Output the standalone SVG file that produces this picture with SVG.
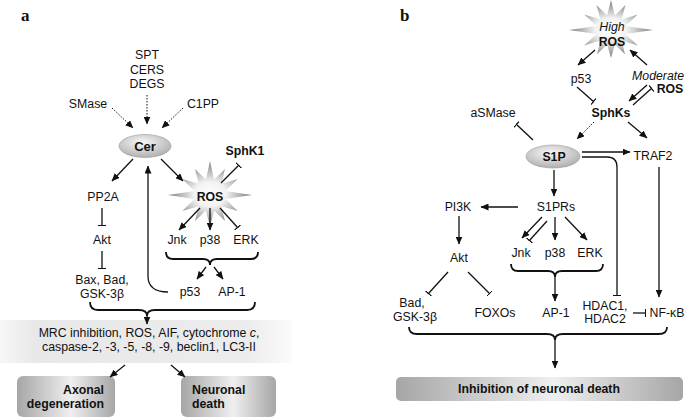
<svg xmlns="http://www.w3.org/2000/svg" width="685" height="418" viewBox="0 0 685 418">
<defs>
<style>
text{font-family:"Liberation Sans",Arial,sans-serif;font-size:12.3px;fill:#111;text-anchor:middle}
.b{font-weight:bold}
.i{font-style:italic}
.lbl{font-family:"Liberation Serif","Times New Roman",serif;font-size:17px;font-weight:bold;text-anchor:start}
.c{fill:none;stroke:#111;stroke-width:1.3}
.d{fill:none;stroke:#111;stroke-width:1;stroke-dasharray:1.5 1.5}
.br{fill:none;stroke:#111;stroke-width:1.8}
.ar{marker-end:url(#ah)}
.tb{marker-end:url(#tb)}
</style>
<marker id="ah" viewBox="0 0 8 7" refX="7.5" refY="3.5" markerWidth="8" markerHeight="7" markerUnits="userSpaceOnUse" orient="auto"><path d="M0,0 L8,3.5 L0,7 z" fill="#111"/></marker>
<marker id="tb" viewBox="0 0 1.4 8" refX="1.4" refY="4" markerWidth="1.4" markerHeight="8" markerUnits="userSpaceOnUse" orient="auto"><rect x="0" y="0" width="1.4" height="8" fill="#111"/></marker>
<radialGradient id="star" cx="50%" cy="50%" r="50%"><stop offset="0" stop-color="#ffffff"/><stop offset="0.38" stop-color="#f2f2f2"/><stop offset="1" stop-color="#7c7c7c"/></radialGradient>
<radialGradient id="ell" cx="45%" cy="35%" r="65%"><stop offset="0" stop-color="#f8f8f8"/><stop offset="1" stop-color="#b0b0b0"/></radialGradient>
<linearGradient id="box" x1="0" y1="0" x2="1" y2="0"><stop offset="0" stop-color="#a6a6a6"/><stop offset="0.55" stop-color="#efefef"/><stop offset="1" stop-color="#a6a6a6"/></linearGradient>
<linearGradient id="band" x1="0" y1="0" x2="1" y2="0"><stop offset="0" stop-color="#f7f7f7"/><stop offset="0.12" stop-color="#e8e8e8"/><stop offset="0.85" stop-color="#ececec"/><stop offset="1" stop-color="#fbfbfb"/></linearGradient>
</defs>
<rect width="685" height="418" fill="#fff"/>

<text class="lbl" x="21" y="21">a</text>
<text class="lbl" x="400" y="21">b</text>

<!-- panel a nodes -->
<g id="a-spt"><text x="147" y="59">SPT</text><text x="147" y="74">CERS</text><text x="147" y="88">DEGS</text></g>
<g id="a-smase"><text x="88" y="108">SMase</text></g>
<g id="a-c1pp"><text x="203" y="108">C1PP</text></g>
<g id="a-cer"><ellipse cx="145" cy="146" rx="26" ry="11.5" fill="url(#ell)" stroke="#9a9a9a" stroke-width="0.6"/><text class="b" x="145" y="150.5" style="font-size:13px">Cer</text></g>
<g id="a-sphk1"><text class="b" x="245" y="155">SphK1</text></g>
<g id="a-ros"><polygon fill="url(#star)" points="252,195 225.5,199.1 237.7,211 221.3,206.3 225,221 214.1,210.5 210,227 205.9,210.5 195,221 198.7,206.3 182.3,211 194.5,199.1 168,195 194.5,190.9 182.3,179 198.7,183.7 195,169 205.9,179.5 210,161 214.1,179.5 225,169 221.3,183.7 237.7,179 225.5,190.9"/><text class="b" x="210" y="201">ROS</text></g>
<g id="a-pp2a"><text x="103" y="201">PP2A</text></g>
<g id="a-akt"><text x="102" y="244">Akt</text></g>
<g id="a-bax"><text x="102" y="284">Bax, Bad,</text><text x="102" y="298">GSK-3β</text></g>
<g id="a-jnk"><text x="177" y="244">Jnk</text></g>
<g id="a-p38"><text x="210" y="244">p38</text></g>
<g id="a-erk"><text x="246" y="244">ERK</text></g>
<g id="a-p53"><text x="190" y="296">p53</text></g>
<g id="a-ap1"><text x="232" y="296">AP-1</text></g>
<g id="a-band"><rect x="0" y="320" width="292" height="43" fill="url(#band)"/><text x="149" y="337">MRC inhibition, ROS, AIF, cytochrome <tspan class="i">c</tspan>,</text><text x="149" y="351">caspase-2, -3, -5, -8, -9, beclin1, LC3-II</text></g>
<g id="a-axonal"><rect x="17" y="376" width="98" height="41" rx="6" fill="url(#box)"/><text class="b" x="104" y="394" style="text-anchor:end">Axonal</text><text class="b" x="104" y="408" style="text-anchor:end">degeneration</text></g>
<g id="a-neuronal"><rect x="181" y="376" width="95" height="41" rx="6" fill="url(#box)"/><text class="b" x="192" y="394" style="text-anchor:start">Neuronal</text><text class="b" x="192" y="408" style="text-anchor:start">death</text></g>

<!-- panel b nodes -->
<g id="b-ros"><polygon fill="url(#star)" points="653,30 625.5,33.9 637.8,45.5 621.6,40.6 625,54.2 614.9,44.5 611,58 607.1,44.5 597,54.2 600.4,40.6 584.2,45.5 596.5,33.9 569,30 596.5,26.1 584.2,14.5 600.4,19.4 596.5,4.9 607.1,15.5 611,0 614.9,15.5 625.5,4.9 621.6,19.4 637.8,14.5 625.5,26.1"/><text class="i" x="612" y="31">High</text><text class="b" x="612" y="46">ROS</text></g>
<g id="b-p53"><text x="581" y="83">p53</text></g>
<g id="b-modros"><text class="i" x="684" y="80" style="text-anchor:end">Moderate</text><text class="b" x="670" y="93">ROS</text></g>
<g id="b-sphks"><text class="b" x="611" y="117">SphKs</text></g>
<g id="b-asmase"><text x="493" y="117">aSMase</text></g>
<g id="b-s1p"><ellipse cx="553" cy="156.5" rx="27" ry="11.5" fill="url(#ell)" stroke="#9a9a9a" stroke-width="0.6"/><text class="b" x="554" y="161">S1P</text></g>
<g id="b-traf2"><text x="653" y="160">TRAF2</text></g>
<g id="b-pi3k"><text x="458" y="211">PI3K</text></g>
<g id="b-s1prs"><text x="556" y="211">S1PRs</text></g>
<g id="b-akt"><text x="459" y="262">Akt</text></g>
<g id="b-jnk"><text x="521" y="257">Jnk</text></g>
<g id="b-p38"><text x="555" y="257">p38</text></g>
<g id="b-erk"><text x="590" y="257">ERK</text></g>
<g id="b-bad"><text x="412" y="307">Bad,</text><text x="415" y="321">GSK-3β</text></g>
<g id="b-foxos"><text x="495" y="317">FOXOs</text></g>
<g id="b-ap1"><text x="556" y="317">AP-1</text></g>
<g id="b-hdac"><text x="605" y="310">HDAC1,</text><text x="605" y="323">HDAC2</text></g>
<g id="b-nfkb"><text x="667" y="317">NF-κB</text></g>
<g id="b-inhib"><rect x="396" y="377" width="287" height="24" rx="5" fill="url(#box)"/><text class="b" x="539" y="393">Inhibition of neuronal death</text></g>

<!-- connectors -->
<g id="connectors">
<line class="d ar" x1="112" y1="108" x2="133" y2="128"/>
<line class="d ar" x1="147" y1="95" x2="147" y2="124"/>
<line class="d ar" x1="183" y1="108" x2="162" y2="128"/>
<line class="c ar" x1="133" y1="159" x2="112" y2="181"/>
<line class="c ar" x1="161" y1="159" x2="183" y2="181"/>
<line class="c tb" x1="221" y1="183" x2="239" y2="165"/>
<line class="c tb" x1="102" y1="208" x2="102" y2="226"/>
<line class="c tb" x1="102" y1="251" x2="102" y2="269"/>
<line class="c ar" x1="200" y1="208" x2="179" y2="230"/>
<line class="c ar" x1="210" y1="208" x2="210" y2="230"/>
<line class="c tb" x1="220" y1="208" x2="238" y2="228"/>
<path class="br" d="M166,252 Q166,259 173,259 L203,259 Q210,259 210,265 Q210,259 217,259 L251,259 Q258,259 258,252"/>
<line class="c ar" x1="206" y1="267" x2="197" y2="279"/>
<line class="c ar" x1="214" y1="267" x2="223" y2="279"/>
<path class="c ar" d="M168,292 Q148,292 148,276 L148,166"/>
<path class="br" d="M90,302 Q90,310 98,310 L139,310 Q147,310 147,316 Q147,310 155,310 L247,310 Q255,310 255,302"/>
<line class="c ar" x1="147" y1="316" x2="147" y2="324"/>
<line class="c ar" x1="125" y1="365" x2="110" y2="377"/>
<line class="c ar" x1="171" y1="365" x2="185" y2="377"/>

<line class="c ar" x1="595" y1="50" x2="578" y2="65"/>
<line class="c ar" x1="647" y1="65" x2="630" y2="50"/>
<line class="c tb" x1="577" y1="87" x2="594" y2="102"/>
<line class="c ar" x1="647" y1="85" x2="629" y2="101"/>
<line class="c tb" x1="633" y1="105" x2="652" y2="88"/>
<line class="d ar" x1="594" y1="122" x2="577" y2="139"/>
<line class="c ar" x1="628" y1="122" x2="647" y2="138"/>
<line class="c tb" x1="533" y1="140" x2="516" y2="124"/>
<line class="c ar" x1="582" y1="152" x2="630" y2="152"/>
<path class="c tb" d="M582,157 L607,157 Q617,157 617,167 L617,296"/>
<line class="c ar" x1="659" y1="167" x2="659" y2="297"/>
<line class="c ar" x1="554" y1="170" x2="554" y2="196"/>
<line class="c ar" x1="518" y1="207" x2="481" y2="207"/>
<line class="c ar" x1="459" y1="216" x2="459" y2="244"/>
<line class="c tb" x1="448" y1="272" x2="428" y2="294"/>
<line class="c tb" x1="468" y1="272" x2="490" y2="294"/>
<line class="c ar" x1="542" y1="217" x2="522" y2="238"/>
<line class="c tb" x1="547" y1="221" x2="529" y2="241"/>
<line class="c ar" x1="555" y1="217" x2="555" y2="240"/>
<line class="c ar" x1="565" y1="217" x2="587" y2="240"/>
<path class="br" d="M511,264 Q511,271 518,271 L548,271 Q555,271 555,277 Q555,271 562,271 L596,271 Q603,271 603,264"/>
<line class="c ar" x1="555" y1="277" x2="555" y2="301"/>
<line class="c tb" x1="633" y1="313" x2="646" y2="313"/>
<path class="br" d="M409,327 Q409,334 417,334 L547,334 Q555,334 555,340 Q555,334 563,334 L659,334 Q667,334 667,327"/>
<line class="c ar" x1="555" y1="340" x2="555" y2="368"/>
</g>
</svg>
